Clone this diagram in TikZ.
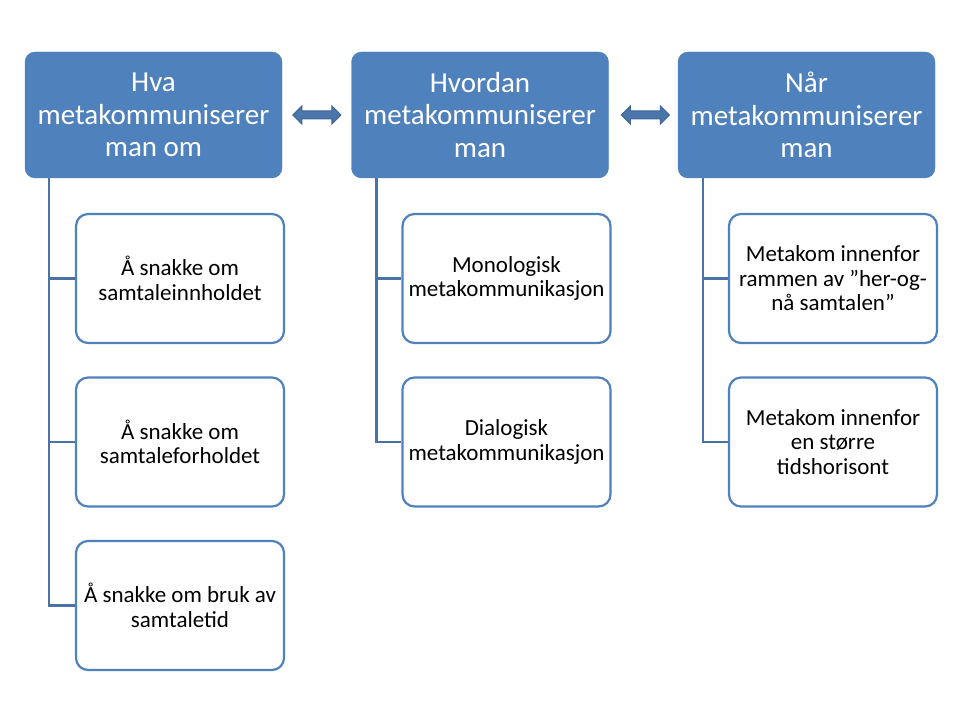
\documentclass[tikz,border=0pt]{standalone}
\usepackage{fontspec}
\setmainfont{Carlito}
\usepackage{tikz}
\usetikzlibrary{positioning,shapes.arrows}
\definecolor{hdblue}{HTML}{4F81BD}
\definecolor{lnblue}{HTML}{4A72A6}
\definecolor{arblue}{HTML}{3F6797}
\definecolor{arfill}{HTML}{4A76AC}

\begin{document}
\begin{tikzpicture}[x=1pt,y=1pt,
  header/.style={draw=hdblue, fill=hdblue, rounded corners=10pt, minimum width=257pt,
    minimum height=126pt, text=white, align=center, inner sep=0pt,
    font=\fontsize{29}{32.5}\selectfont},
  item/.style={draw=hdblue, line width=2.2pt, fill=white, rounded corners=12pt,
    minimum width=208pt, minimum height=129pt, align=center, inner sep=0pt,
    font=\fontsize{23}{24.5}\selectfont},
  link/.style={draw=lnblue, line width=2.6pt},
  swap/.style={double arrow, draw=arblue, fill=arfill, line width=1pt, inner xsep=0pt,
    inner ysep=3.5pt, minimum height=48pt, double arrow head extend=5pt}]
  \useasboundingbox (0,0) rectangle (960,720);

  % headers
  \node[header] (hva) at (153.5,605) {Hva\\metakommuniserer\\man om};
  \node[header] (hvordan) at (480,605) {Hvordan\\metakommuniserer\\man};
  \node[header] (naar) at (806.5,605) {Når\\metakommuniserer\\man};

  \node[swap, right=10pt of hva] (ar1) {};
  \node[swap, right=12pt of hvordan] (ar2) {};

  % items
  \node[item] (hva1) at (180,441.5) {Å snakke om\\samtaleinnholdet};
  \node[item] (hva2) at (180,278) {Å snakke om\\samtaleforholdet};
  \node[item] (hva3) at (180,114.5) {Å snakke om bruk av\\samtaletid};

  \node[item] (hvordan1) at (506.5,441.5) {Monologisk\\metakommunikasjon};
  \node[item] (hvordan2) at (506.5,278) {Dialogisk\\metakommunikasjon};

  \node[item] (naar1) at (833,441.5) {Metakom innenfor\\rammen av ”her-og-\\nå samtalen”};
  \node[item] (naar2) at (833,278) {Metakom innenfor\\en større\\tidshorisont};

  % connectors
  \draw[link] ([xshift=24pt]hva.south west) |- (hva3.west);
  \draw[link] ([xshift=24pt]hva.south west) |- (hva2.west);
  \draw[link] ([xshift=24pt]hva.south west) |- (hva1.west);
  \draw[link] ([xshift=25pt]hvordan.south west) |- (hvordan2.west);
  \draw[link] ([xshift=25pt]hvordan.south west) |- (hvordan1.west);
  \draw[link] ([xshift=25pt]naar.south west) |- (naar2.west);
  \draw[link] ([xshift=25pt]naar.south west) |- (naar1.west);
\end{tikzpicture}
\end{document}
